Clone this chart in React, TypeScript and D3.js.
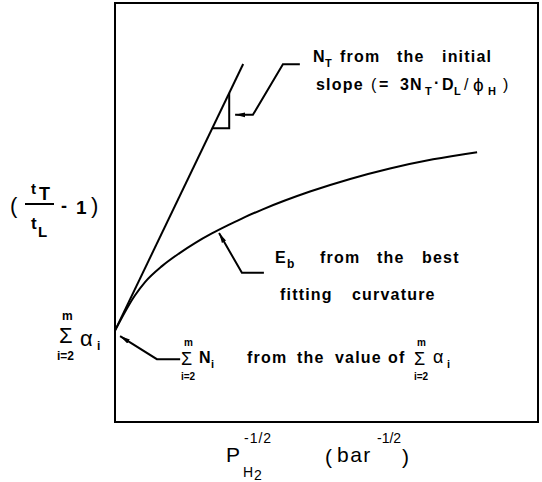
import React from "react";
import * as d3 from "d3";

// Abscissa P_H2^-1/2 and ordinate (t_T/t_L - 1), arbitrary units
const xDomain = [0, 10];
const yDomain = [0, 10];

// Best-fitting curve through the measured ratio
const curveX = [0, 0.47, 0.71, 1.11, 1.51, 1.89, 2.29, 2.7, 3.07, 3.48, 4.61, 5.56, 6.5, 7.52, 8.56];
const curveY = [2.18, 3.02, 3.34, 3.72, 4.02, 4.27, 4.5, 4.71, 4.89, 5.07, 5.5, 5.8, 6.05, 6.27, 6.44];

// Initial-slope tangent: intercept = sum of alpha_i
const intercept = 2.18;
const initialSlope = 2.1;
const tangentEndX = 3.03;

// Slope triangle on the tangent (x of its two corners)
const triangleX = [2.3, 2.7];

// Leader lines (tip first), in data units
const leaderNT = [[2.84, 7.33], [3.26, 7.33], [3.97, 8.54], [4.37, 8.54]];
const leaderEb = [[2.46, 4.51], [3.0, 3.56], [3.52, 3.56]];
const leaderSum = [[0.12, 2.05], [0.99, 1.5], [1.54, 1.5]];

const W = 542;
const H = 482;
const FONT = "'Liberation Sans', Arial, sans-serif";

type TProps = {
  x: number;
  y: number;
  s?: number;
  w?: string | number;
  ls?: number;
  children: React.ReactNode;
};

const T = ({ x, y, s = 16, w = "bold", ls = 1.2, children }: TProps) => (
  <text x={x} y={y} fontSize={s} fontWeight={w} letterSpacing={ls} fill="#000" fontFamily={FONT}>
    {children}
  </text>
);

export default function App() {
  const x = d3.scaleLinear().domain(xDomain).range([115, 538]);
  const y = d3.scaleLinear().domain(yDomain).range([422, 3]);

  const curve = d3
    .line<number>()
    .x((_, i) => x(curveX[i]))
    .y((d) => y(d))
    .curve(d3.curveMonotoneX)(curveY) as string;

  const tangentY = (v: number) => intercept + initialSlope * v;
  const tangent = d3.line<number>().x((v) => x(v)).y((v) => y(tangentY(v)))([0, tangentEndX]) as string;

  const [ta, tb] = triangleX;
  const triangle = d3.line<[number, number]>().x((d) => x(d[0])).y((d) => y(d[1]))([
    [ta, tangentY(ta)],
    [tb, tangentY(ta)],
    [tb, tangentY(tb)],
  ]) as string;

  const leader = (pts: number[][]) =>
    d3
      .line<number[]>()
      .x((d) => x(d[0]))
      .y((d) => y(d[1]))(pts.slice().reverse()) as string;

  const [x0, x1] = x.range();
  const [y0, y1] = y.range();

  return (
    <svg width={W} height={H} style={{ position: "absolute", left: 0, top: 0, background: "#fff" }}>
      <defs>
        <marker
          id="tip"
          viewBox="0 0 10 6"
          refX={10}
          refY={3}
          markerWidth={10}
          markerHeight={6}
          markerUnits="userSpaceOnUse"
          orient="auto"
        >
          <path d="M0,0.6 L10,3 L0,5.4 Z" fill="#000" />
        </marker>
      </defs>
      <rect width={W} height={H} fill="#fff" />

      {/* frame */}
      <rect x={x0} y={y1} width={x1 - x0} height={y0 - y1} fill="none" stroke="#000" strokeWidth={2} />

      {/* tangent and fitted curve */}
      <path d={tangent} fill="none" stroke="#000" strokeWidth={2} />
      <path d={curve} fill="none" stroke="#000" strokeWidth={2} />
      <path d={triangle} fill="none" stroke="#000" strokeWidth={2} />

      {/* leaders */}
      {[leaderNT, leaderEb, leaderSum].map((p, i) => (
        <path key={i} d={leader(p)} fill="none" stroke="#000" strokeWidth={2} markerEnd="url(#tip)" />
      ))}

      {/* N_T annotation */}
      <T x={313} y={62}>N</T>
      <T x={325} y={67} s={11}>T</T>
      <T x={340} y={62}>from</T>
      <T x={397} y={62}>the</T>
      <T x={442} y={62}>initial</T>

      <T x={316} y={90}>slope</T>
      <T x={371} y={90} w="normal">(</T>
      <T x={379} y={90}>=</T>
      <T x={400} y={90}>3N</T>
      <T x={425} y={95} s={11}>T</T>
      <T x={434} y={88}>·</T>
      <T x={442} y={90}>D</T>
      <T x={454} y={95} s={11}>L</T>
      <T x={464} y={90} w="normal">/</T>
      <T x={473} y={91} s={19} w="normal" ls={0}>ϕ</T>
      <T x={488} y={95} s={11}>H</T>
      <T x={503} y={90} w="normal">)</T>

      {/* E_b annotation */}
      <T x={275} y={263}>E</T>
      <T x={287} y={268} s={12}>b</T>
      <T x={320} y={263}>from</T>
      <T x={377} y={263}>the</T>
      <T x={422} y={263}>best</T>
      <T x={280} y={300}>fitting</T>
      <T x={352} y={300}>curvature</T>

      {/* sum annotation */}
      <T x={184} y={346} s={10} ls={0}>m</T>
      <T x={181} y={365} s={18} w="normal" ls={0}>Σ</T>
      <T x={181} y={380} s={10} ls={0}>i=2</T>
      <T x={199} y={363}>N</T>
      <T x={211} y={368} s={11}>i</T>
      <T x={247} y={363}>from</T>
      <T x={297} y={363}>the</T>
      <T x={335} y={363}>value</T>
      <T x={388} y={363}>of</T>
      <T x={417} y={346} s={10} ls={0}>m</T>
      <T x={414} y={365} s={18} w="normal" ls={0}>Σ</T>
      <T x={414} y={380} s={10} ls={0}>i=2</T>
      <T x={433} y={363} s={18} w="normal" ls={0}>α</T>
      <T x={447} y={368} s={11}>i</T>

      {/* intercept label */}
      <T x={62} y={320} s={12} ls={0}>m</T>
      <T x={59} y={343} s={22} w="normal" ls={0}>Σ</T>
      <T x={80} y={346} s={22} w="normal" ls={0}>α</T>
      <T x={97} y={350} s={12}>i</T>
      <T x={57} y={360} s={12} ls={0}>i=2</T>

      {/* y-axis title */}
      <T x={10} y={213} s={22} w="normal" ls={0}>(</T>
      <T x={31} y={194} s={15} ls={0}>t</T>
      <T x={39} y={200} s={18} ls={0}>T</T>
      <line x1={25} x2={54} y1={204} y2={204} stroke="#000" strokeWidth={2} />
      <T x={31} y={229} s={17} ls={0}>t</T>
      <T x={38} y={237} s={15} ls={0}>L</T>
      <T x={61} y={212} s={18} ls={0}>-</T>
      <T x={76} y={214} s={19} ls={0}>1</T>
      <T x={91} y={213} s={22} w="normal" ls={0}>)</T>

      {/* x-axis title */}
      <T x={226} y={462} s={21} w="normal" ls={0}>P</T>
      <T x={244} y={443} s={14} w="normal" ls={1}>-1/2</T>
      <T x={243} y={477} s={14} w="normal" ls={0}>H</T>
      <T x={254} y={480} s={14} w="normal" ls={0}>2</T>
      <T x={325} y={464} s={21} w="normal" ls={0}>(</T>
      <T x={337} y={462} s={21} w="normal" ls={1.5}>bar</T>
      <T x={377} y={443} s={14} w="normal" ls={0}>-1/2</T>
      <T x={402} y={464} s={21} w="normal" ls={0}>)</T>
    </svg>
  );
}
